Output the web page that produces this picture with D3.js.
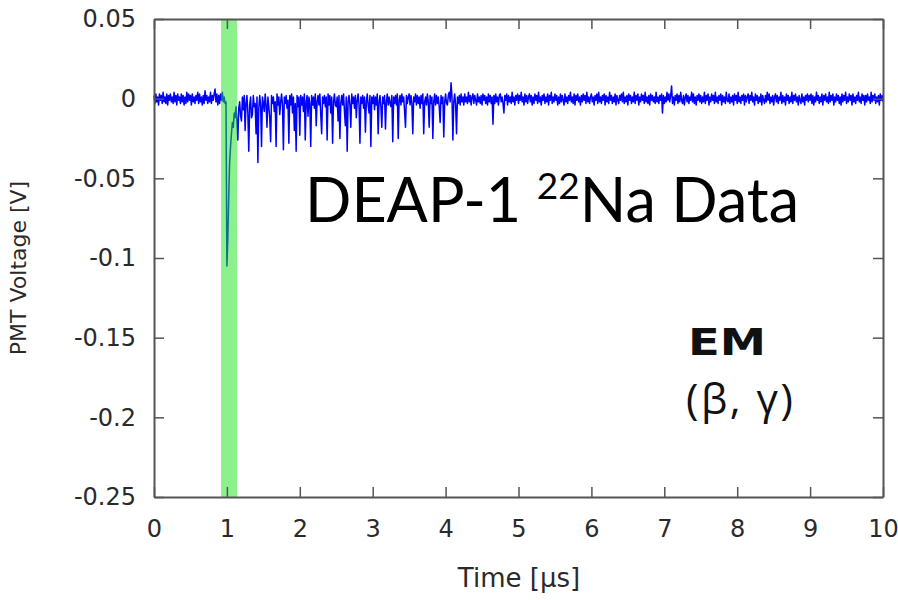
<!DOCTYPE html>
<html>
<head>
<meta charset="utf-8">
<script src="https://cdn.jsdelivr.net/npm/d3@7"></script>
<style>
  html, body { margin: 0; padding: 0; background: #fff; }
  svg { display: block; }
</style>
</head>
<body>
<svg id="chart" width="898" height="600"></svg>
<script>
// PMT waveform, sampled every 0.0125 µs from 0 to 10 µs, in millivolts (80 samples per µs)
const sampleStepUs = 0.0125;
const voltageMv = [
  // 0 – 1 µs
  2,-3,3,-2,1,-4,3,-1,2,-3, 4,-2,1,-3,3,-4,2,-1,3,-2,
  1,-3,4,-2,2,-4,3,-1,1,-3, 3,-2,2,-4,1,-3,4,-2,3,-1,
  2,-4,3,-2,1,-3,2,-1,4,-3, 3,-2,1,-4,2,-3,5,-1,2,-3,
  1,-2,4,-3,2,-1,3,6,-2,3, -4,2,-3,3,-1,4,-2,1,-3,-2,
  // 1 – 2 µs
  -105,-88,-62,-40,-30,-22,-15,-18,-9,-12, -5,-14,-26,-6,-2,-11,-14,1,-7,2,
  -20,-3,2,-9,-33,-4,1,-12,-10,2, -5,-3,-22,1,-40,-6,2,-4,-30,1,
  -3,-8,3,-4,-18,1,-5,-12,-27,2, -3,1,-8,-2,-30,3,-4,1,-10,-2,
  3,-4,-32,1,-3,2,-6,-1,-28,2, -4,3,-9,1,-20,-3,-33,2,-5,1,
  // 2 – 3 µs
  -23,2,-4,1,-8,3,-26,-2,2,-11, 1,-3,-30,2,-4,1,-6,3,-17,-2,
  2,-4,3,-10,-22,1,-3,2,-5,1, -26,3,-4,2,-9,1,-28,-2,3,-4,
  -5,1,-14,2,-25,-3,2,-4,3,-8, -17,1,-33,-2,2,-4,-18,3,-3,1,
  -6,2,-12,-1,3,-4,-28,1,-3,2, -6,1,-21,-2,3,-4,-9,2,-30,1,
  // 3 – 4 µs
  -3,2,-7,1,-4,3,-22,-2,2,-5, -18,1,-3,2,-19,-2,3,-4,1,-3,
  -5,2,-27,1,-3,2,-4,3,-25,-1, 2,-4,3,-2,1,-8,-18,2,-3,1,
  3,-4,2,-3,-22,1,-2,3,-4,2, -3,1,-6,2,-3,3,-22,-2,1,-4,
  3,-2,-18,2,-3,1,-25,-2,3,-4, 2,-3,1,-5,-15,2,-3,1,-24,-2,
  // 4 – 5 µs
  3,-3,-4,2,4,-2,10,1,-26,-2, 3,-4,-22,1,-3,2,-4,3,-2,1,
  -4,3,-2,1,-3,4,-2,2,-4,1, 3,-3,2,-1,-4,3,-2,1,-3,2,
  -4,3,-1,2,-3,1,-4,3,-2,2, -3,1,-16,2,-3,3,-2,1,-4,2,
  3,-2,1,-3,-9,2,-1,3,-4,2, -2,1,-3,4,-2,1,-4,2,-1,3,
  // 5 – 6 µs
  -3,2,-1,4,-2,1,-4,3,-2,2, -3,1,3,-2,2,-4,1,-3,3,-1,
  2,-3,4,-2,1,-4,2,-1,3,-3, 1,-2,3,-4,2,-1,4,-3,1,-2,
  3,-1,2,-4,1,-3,3,-2,2,-1, -4,3,-2,1,-3,2,-1,4,-2,1,
  -3,3,-4,2,-1,3,-2,1,-4,2, -2,3,-1,2,-3,4,-2,1,-3,1,
  // 6 – 7 µs
  3,-2,1,-4,2,-1,3,-3,4,-2, 1,-3,2,-1,3,-4,2,-2,1,-3,
  4,-1,2,-3,1,-2,3,-4,2,-1, -3,2,-1,3,-2,4,-3,1,-2,2,
  -4,3,-1,2,-3,1,-2,4,-3,2, -1,3,-4,1,-2,3,-1,2,-3,4,
  -2,1,-3,2,-4,3,-1,2,-2,1, -3,4,-2,1,-3,2,-1,3,-9,2,
  // 7 – 8 µs
  -3,1,-2,4,-1,3,-2,2,8,-3, 1,-4,2,-1,3,-3,2,-2,4,-1,
  -3,2,-4,1,3,-2,2,-3,1,-1, 4,-2,3,-3,1,-4,2,-1,3,-2,
  2,-3,1,-2,4,-3,2,-1,3,-4, 1,-2,3,-1,2,-3,4,-2,1,-3,
  2,-1,3,-4,2,-2,1,-3,4,-1, -2,3,-3,1,-2,2,-4,3,-1,2,
  // 8 – 9 µs
  -3,4,-2,1,-3,2,-1,3,-4,2, -2,1,3,-3,2,-1,4,-2,1,-4,
  3,-1,2,-3,1,-2,3,-4,2,-1, -3,2,-2,4,-1,3,-3,1,-2,2,
  -4,1,3,-2,2,-3,1,-1,4,-3, 2,-2,1,-4,3,-1,2,-3,1,-2,
  4,-3,2,-1,3,-2,1,-4,2,-1, -3,3,-2,1,-4,2,-1,3,-2,2,
  // 9 – 10 µs
  -1,3,-3,2,-4,1,-2,4,-1,2, -3,1,-2,3,-4,2,-1,3,-2,1,
  -3,4,-2,2,-1,3,-4,1,-2,3, -1,2,-3,1,-4,3,-2,2,-1,4,
  -3,1,-2,3,-1,2,-4,3,-2,1, -3,2,-1,4,-2,1,-3,3,-1,2,
  -4,2,-2,3,-1,1,-3,4,-2,2, -1,3,-3,1,-2,2,-4,3,-1,2,
  -2
];

// Prompt-light integration window (µs)
const promptWindow = [0.92, 1.14];

// Axis ticks and their labels
const xTicks = [0,1,2,3,4,5,6,7,8,9,10];
const xTickLabels = ["0","1","2","3","4","5","6","7","8","9","10"];
const yTicks = [0.05, 0, -0.05, -0.1, -0.15, -0.2, -0.25];
const yTickLabels = ["0.05","0","-0.05","-0.1","-0.15","-0.2","-0.25"];

const xTitle = "Time [µs]";
const yTitle = "PMT Voltage [V]";

const svg = d3.select("#chart");
const plot = { left: 154, right: 883, top: 19, bottom: 497 };

const x = d3.scaleLinear().domain([0, 10]).range([plot.left, plot.right]);
const y = d3.scaleLinear().domain([-0.25, 0.05]).range([plot.bottom, plot.top]);

const points = voltageMv.map((v, i) => ({ t: i * sampleStepUs, v: v / 1000 }));

const axisFont = "'DejaVu Sans', sans-serif";
const frameColor = "#555";
const textColor = "#2a2a2a";

// Waveform
svg.append("path")
  .datum(points)
  .attr("fill", "none")
  .attr("stroke", "#0000ff")
  .attr("stroke-width", 1.5)
  .attr("stroke-linejoin", "round")
  .attr("d", d3.line().x(d => x(d.t)).y(d => y(d.v)));

// Prompt window highlight (semi-transparent, over the trace)
svg.append("rect")
  .attr("x", x(promptWindow[0]))
  .attr("y", plot.top)
  .attr("width", x(promptWindow[1]) - x(promptWindow[0]))
  .attr("height", plot.bottom - plot.top)
  .attr("fill", "rgb(25,225,25)")
  .attr("fill-opacity", 0.5);

// Axes with inward ticks on all four sides
function styleAxis(g) {
  g.selectAll("path.domain").attr("stroke", frameColor).attr("stroke-width", 2);
  g.selectAll(".tick line").attr("stroke", frameColor).attr("stroke-width", 1.5);
  g.selectAll("text").attr("fill", textColor).style("font-family", axisFont).style("font-size", "24px");
}

svg.append("g")
  .attr("transform", `translate(0,${plot.bottom})`)
  .call(d3.axisBottom(x).tickValues(xTicks).tickFormat((d, i) => xTickLabels[i])
        .tickSizeInner(-10).tickSizeOuter(0).tickPadding(23))
  .call(styleAxis);

svg.append("g")
  .attr("transform", `translate(0,${plot.top})`)
  .call(d3.axisTop(x).tickValues(xTicks).tickFormat("")
        .tickSizeInner(-10).tickSizeOuter(0))
  .call(styleAxis);

svg.append("g")
  .attr("transform", `translate(${plot.left},0)`)
  .call(d3.axisLeft(y).tickValues(yTicks).tickFormat((d, i) => yTickLabels[i])
        .tickSizeInner(-10).tickSizeOuter(0).tickPadding(18))
  .call(styleAxis);

svg.append("g")
  .attr("transform", `translate(${plot.right},0)`)
  .call(d3.axisRight(y).tickValues(yTicks).tickFormat("")
        .tickSizeInner(-10).tickSizeOuter(0))
  .call(styleAxis);

// Axis titles
svg.append("text")
  .attr("x", 519)
  .attr("y", 587)
  .attr("text-anchor", "middle")
  .style("font-family", axisFont)
  .style("font-size", "26px")
  .attr("fill", textColor)
  .text(xTitle);

svg.append("text")
  .attr("transform", `translate(26,${(plot.top + plot.bottom) / 2 + 10}) rotate(-90)`)
  .attr("text-anchor", "middle")
  .style("font-family", axisFont)
  .style("font-size", "22px")
  .attr("fill", textColor)
  .text(yTitle);

// Dataset caption
const caption = svg.append("text")
  .attr("x", 305)
  .attr("y", 222)
  .style("font-family", "Lato, 'Open Sans', sans-serif")
  .style("font-size", "61px")
  .attr("fill", "#000");
caption.append("tspan").text("DEAP-1 ");
caption.append("tspan").attr("dy", -23).style("font-size", "37px").text("22");
caption.append("tspan").attr("dy", 23).text("Na Data");

// Event-class annotation
svg.append("text")
  .attr("x", 688)
  .attr("y", 355)
  .attr("textLength", 78)
  .attr("lengthAdjust", "spacingAndGlyphs")
  .style("font-family", "'DejaVu Sans', sans-serif")
  .style("font-weight", "bold")
  .style("font-size", "38px")
  .attr("fill", "#111")
  .text("EM");

svg.append("text")
  .attr("x", 686)
  .attr("y", 414)
  .style("font-family", "'Open Sans', sans-serif")
  .style("font-size", "42px")
  .style("letter-spacing", "2.5px")
  .attr("fill", "#111")
  .text("(β, γ)");
</script>
</body>
</html>
